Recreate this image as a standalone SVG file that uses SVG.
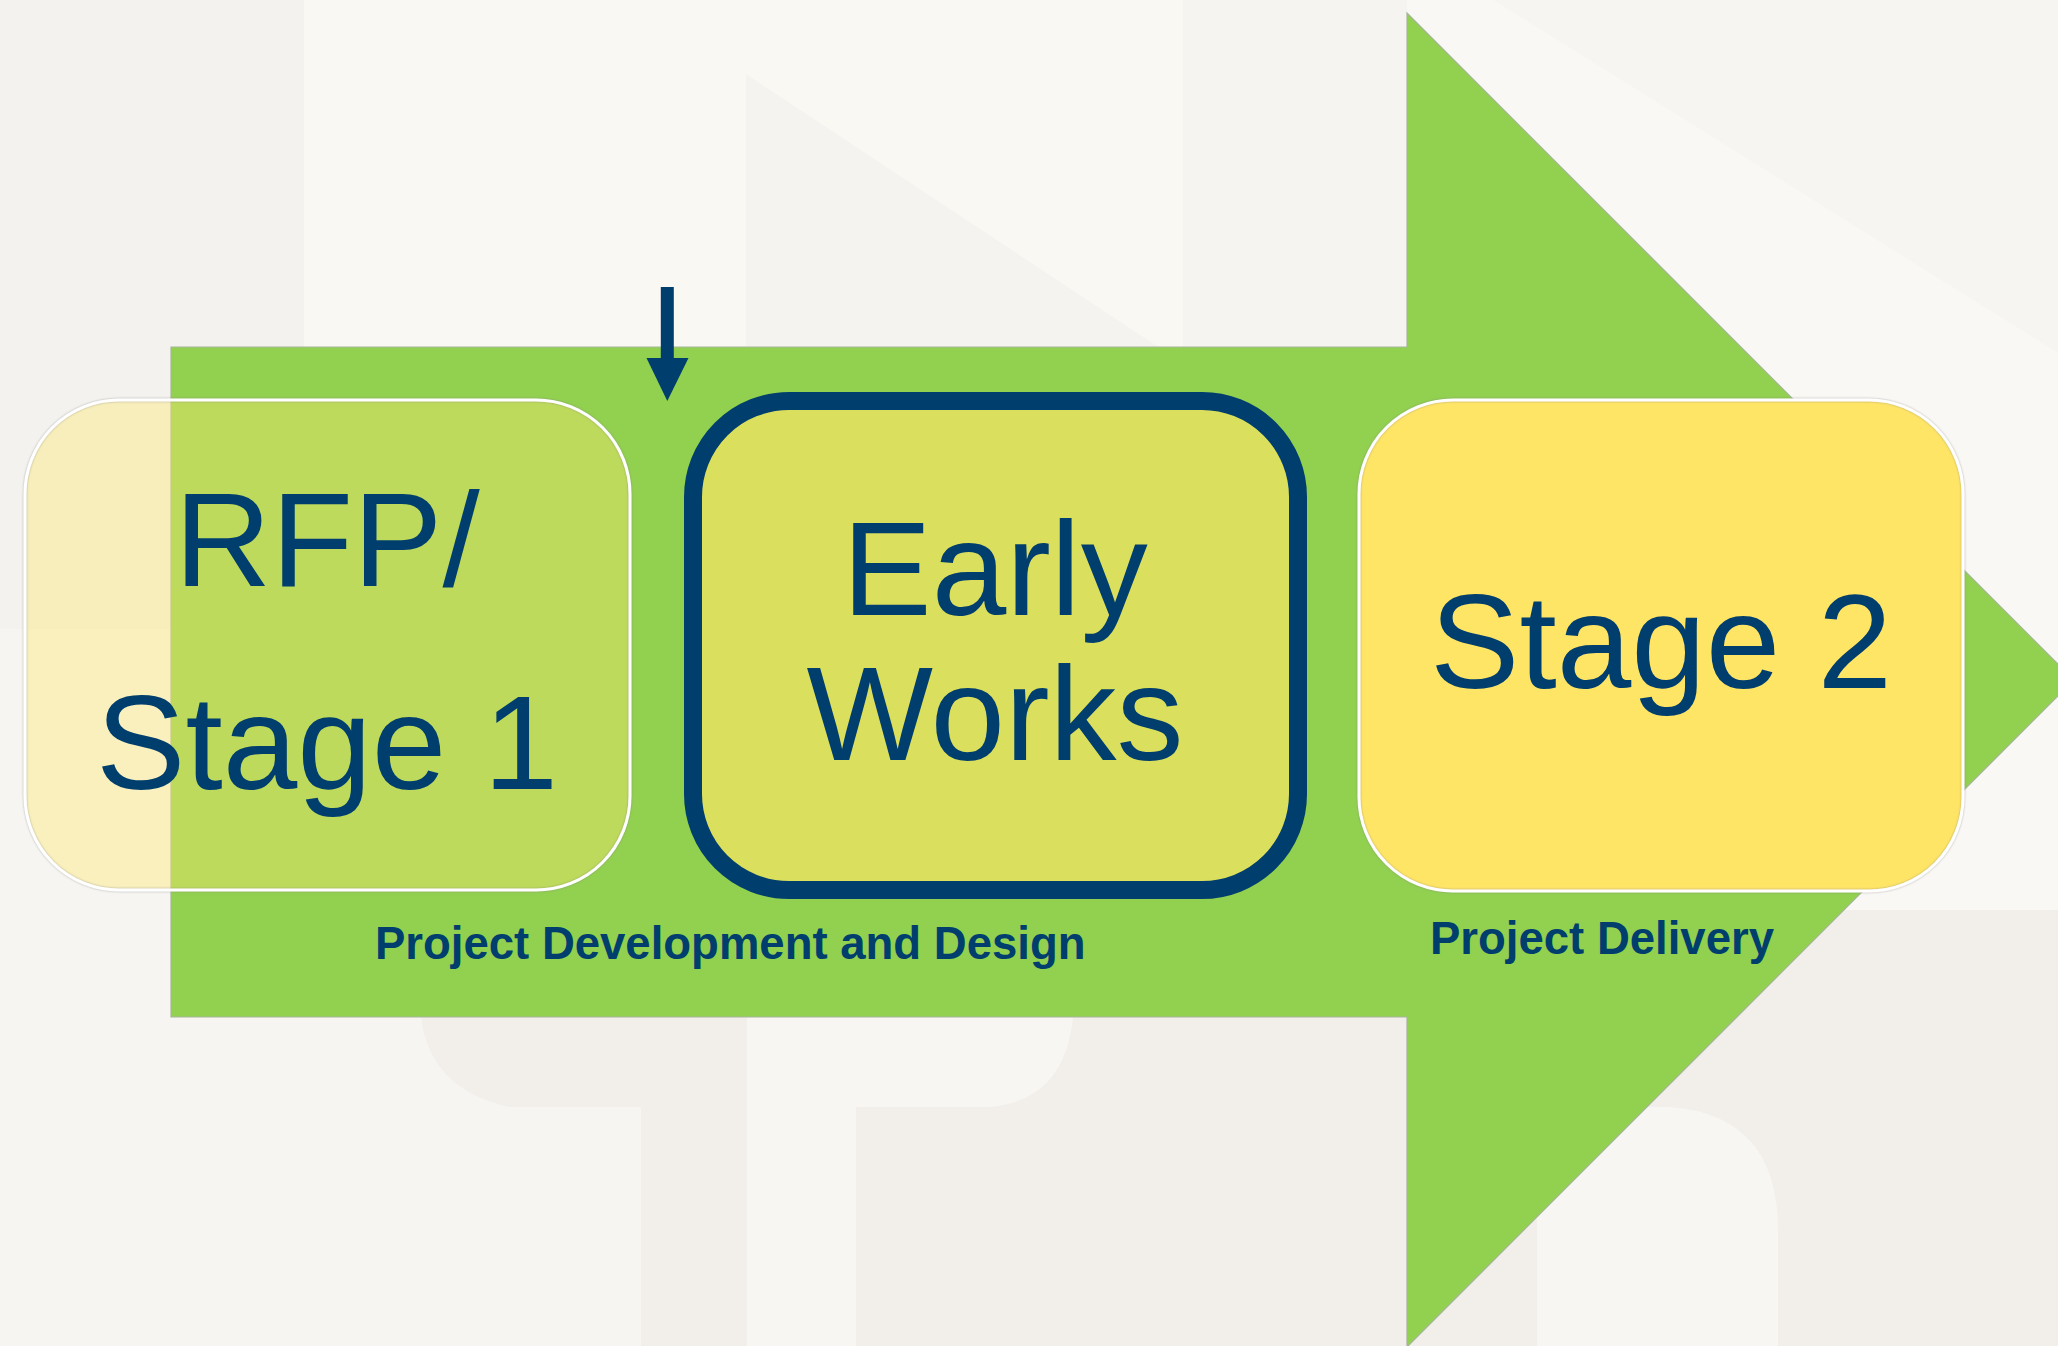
<svg xmlns="http://www.w3.org/2000/svg" width="2058" height="1346" viewBox="0 0 2058 1346">
  <style>
    .big { font-family: "Liberation Sans", Arial, sans-serif; font-size: 134px; fill: #003E6E; text-anchor: middle; }
    .lbl { font-family: "Liberation Sans", Arial, sans-serif; font-size: 45.5px; font-weight: bold; fill: #003E6E; }
    .soft { fill: none; stroke: #FFFFFF; stroke-width: 3; }
  </style>
  <defs>
    <filter id="sh" x="-5%" y="-5%" width="110%" height="110%">
      <feDropShadow dx="0" dy="0" stdDeviation="1.2" flood-color="#7A7A7A" flood-opacity="0.6"/>
    </filter>
  </defs>

  <!-- background -->
  <g id="background">
    <rect x="0" y="0" width="2058" height="1346" fill="#F6F5F2"/>
    <rect x="0" y="0" width="304" height="629" fill="#F3F2EF"/>
    <rect x="304" y="0" width="442" height="360" fill="#FAF8F3"/>
    <rect x="746" y="0" width="437" height="360" fill="#F4F3F0"/>
    <polygon points="634,0 1183,0 1183,360 1178,360" fill="#FAF8F3"/>
    <rect x="1183" y="0" width="230" height="360" fill="#F5F4F1"/>
    <polygon points="1407,0 1493,0 2058,353 2058,910 1407,910" fill="#FAF8F4"/>
    <rect x="1407" y="910" width="651" height="436" fill="#F2EEEA"/>
    <path d="M1537,1346 L1537,1107 L1670,1107 Q1778,1115 1778,1230 L1778,1346 Z" fill="#F7F6F2"/>
    <path d="M421,1017 L747,1017 L747,1346 L641,1346 L641,1107 L510,1107 Q430,1090 421,1017 Z" fill="#F2EEEA"/>
    <rect x="747" y="1017" width="109" height="329" fill="#F7F6F2"/>
    <path d="M856,1017 L1073,1017 Q1065,1100 990,1107 L856,1107 Z" fill="#F7F6F2"/>
    <path d="M1073,1017 L1407,1017 L1407,1346 L856,1346 L856,1107 L990,1107 Q1065,1100 1073,1017 Z" fill="#F2EEEA"/>
  </g>

  <!-- big process arrow -->
  <g id="process-arrow">
    <polygon points="171,347 1407,347 1407,13 2074,680 1407,1347 1407,1017 171,1017" fill="#92D050" stroke="#A7B59C" stroke-width="1.2"/>
  </g>

  <!-- nodes -->
  <g id="node-rfp-stage1">
    <rect x="25" y="400" width="605" height="490" rx="94" ry="94" fill="#FFE86D" fill-opacity="0.4"/>
    <rect x="25" y="400" width="605" height="490" rx="94" ry="94" class="soft" filter="url(#sh)"/>
    <text class="big" x="327" y="586">RFP/</text>
    <text class="big" x="327" y="789">Stage 1</text>
  </g>

  <g id="node-early-works">
    <rect x="693" y="401" width="605" height="489" rx="96" ry="96" fill="#DBDF5E" stroke="#003E6E" stroke-width="18"/>
    <text class="big" x="995" y="615">Early</text>
    <text class="big" x="995" y="760">Works</text>
  </g>

  <g id="node-stage2">
    <rect x="1359" y="400" width="604" height="491" rx="94" ry="94" fill="#FFE566"/>
    <rect x="1359" y="400" width="604" height="491" rx="94" ry="94" class="soft" filter="url(#sh)"/>
    <text class="big" x="1661" y="688">Stage 2</text>
  </g>

  <g id="label-development">
    <text class="lbl" x="375" y="959">Project Development and Design</text>
  </g>
  <g id="label-delivery">
    <text class="lbl" x="1430" y="954">Project Delivery</text>
  </g>

  <!-- connectors -->
  <g id="connectors">
    <line x1="667.3" y1="287" x2="667.3" y2="360" stroke="#003E6E" stroke-width="13"/>
    <polygon points="646.5,358 688.5,358 667.3,401" fill="#003E6E"/>
  </g>
</svg>
